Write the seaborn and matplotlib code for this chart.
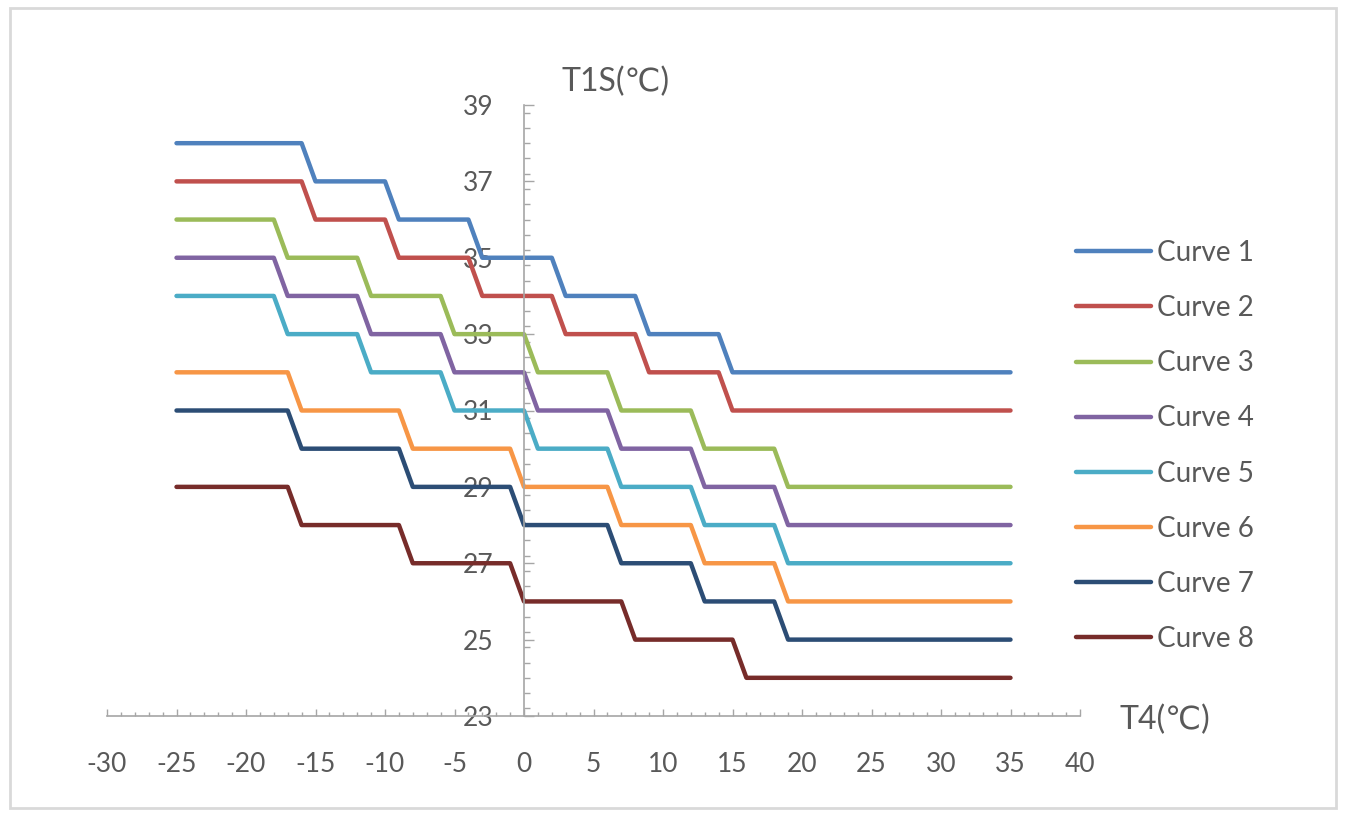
import matplotlib
matplotlib.use("Agg")
import numpy as np
import pandas as pd
import seaborn as sns
import matplotlib.pyplot as plt
from matplotlib.patches import Rectangle
from matplotlib.ticker import MultipleLocator

# breakpoints of each curve (T4 in degC)
x_c1 = [-25, -16, -15, -10, -9, -4, -3, 2, 3, 8, 9, 14, 15, 35]
x_c3 = [-25, -18, -17, -12, -11, -6, -5, 0, 1, 6, 7, 12, 13, 18, 19, 35]
x_c6 = [-25, -17, -16, -9, -8, -1, 0, 6, 7, 12, 13, 18, 19, 35]
x_c8 = [-25, -17, -16, -9, -8, -1, 0, 7, 8, 15, 16, 35]

# T1S values at those breakpoints
y_c1 = [38, 38, 37, 37, 36, 36, 35, 35, 34, 34, 33, 33, 32, 32]
y_c2 = [37, 37, 36, 36, 35, 35, 34, 34, 33, 33, 32, 32, 31, 31]
y_c3 = [36, 36, 35, 35, 34, 34, 33, 33, 32, 32, 31, 31, 30, 30, 29, 29]
y_c4 = [35, 35, 34, 34, 33, 33, 32, 32, 31, 31, 30, 30, 29, 29, 28, 28]
y_c5 = [34, 34, 33, 33, 32, 32, 31, 31, 30, 30, 29, 29, 28, 28, 27, 27]
y_c6 = [32, 32, 31, 31, 30, 30, 29, 29, 28, 28, 27, 27, 26, 26]
y_c7 = [31, 31, 30, 30, 29, 29, 28, 28, 27, 27, 26, 26, 25, 25]
y_c8 = [29, 29, 28, 28, 27, 27, 26, 26, 25, 25, 24, 24]

names = ["Curve 1", "Curve 2", "Curve 3", "Curve 4",
         "Curve 5", "Curve 6", "Curve 7", "Curve 8"]
xs = [x_c1, x_c1, x_c3, x_c3, x_c3, x_c6, x_c6, x_c8]
ys = [y_c1, y_c2, y_c3, y_c4, y_c5, y_c6, y_c7, y_c8]
colors = ["#4F81BD", "#C0504D", "#9BBB59", "#8064A2",
          "#4BACC6", "#F79646", "#2C4D75", "#772C2A"]

rows = []
for name, xv, yv in zip(names, xs, ys):
    for a, b in zip(xv, yv):
        rows.append((name, a, b))
df = pd.DataFrame(rows, columns=["curve", "T4", "T1S"])

sns.set_style("white")
plt.rcParams["font.family"] = ["Lato", "DejaVu Sans"]
text_col = "#595959"
axis_col = "#A6A6A6"

fig = plt.figure(figsize=(13.46, 8.14), dpi=100)
fig.patches.append(Rectangle((10 / 1346, 6 / 814), 1326 / 1346, 800 / 814,
                             transform=fig.transFigure, fill=False,
                             edgecolor="#D9D9D9", linewidth=2))
ax = fig.add_axes([107 / 1346, 1 - 716 / 814, 973 / 1346, 611 / 814])

sns.lineplot(data=df, x="T4", y="T1S", hue="curve", palette=colors,
             sort=False, estimator=None, linewidth=3.2, ax=ax)

ax.set_xlim(-30, 40)
ax.set_ylim(23, 39)

ax.spines["left"].set_position(("data", 0))
for s in ["top", "right"]:
    ax.spines[s].set_visible(False)
for s in ["left", "bottom"]:
    ax.spines[s].set_color(axis_col)
    ax.spines[s].set_linewidth(1.2)

ax.xaxis.set_major_locator(MultipleLocator(5))
ax.xaxis.set_minor_locator(MultipleLocator(1))
ax.yaxis.set_major_locator(MultipleLocator(2))
ax.yaxis.set_minor_locator(MultipleLocator(0.4))
ax.tick_params(which="both", bottom=True, left=True)
ax.tick_params(axis="x", which="major", direction="in", length=5, width=1,
               color=axis_col, labelsize=19, labelcolor=text_col, pad=26)
ax.tick_params(axis="x", which="minor", direction="in", length=3, width=1,
               color=axis_col)
ax.tick_params(axis="y", which="major", direction="in", length=7, width=1,
               color=axis_col, labelsize=19, labelcolor=text_col, pad=22)
ax.tick_params(axis="y", which="minor", direction="in", length=4, width=1,
               color=axis_col)
ax.set_xticks(np.arange(-30, 41, 5))
ax.set_xticklabels([str(v) for v in range(-30, 41, 5)])
ax.set_yticks(np.arange(23, 40, 2))

ax.set_xlabel("")
ax.set_ylabel("")
fig.text(561 / 1346, 1 - 82 / 814, "T1S(℃)", fontsize=23, color=text_col,
         ha="left", va="center")
fig.text(1120 / 1346, 1 - 720 / 814, "T4(℃)", fontsize=23, color=text_col,
         ha="left", va="center")

ax.legend_.remove()
handles, labels = ax.get_legend_handles_labels()
fig.legend(handles, labels, loc="center left",
           bbox_to_anchor=(1076 / 1346, 1 - 446 / 814),
           frameon=False, fontsize=20, labelcolor=text_col,
           handlelength=2.7, handletextpad=0.2, labelspacing=1.05,
           borderpad=0, borderaxespad=0)

fig.savefig("out.png", dpi=100)
